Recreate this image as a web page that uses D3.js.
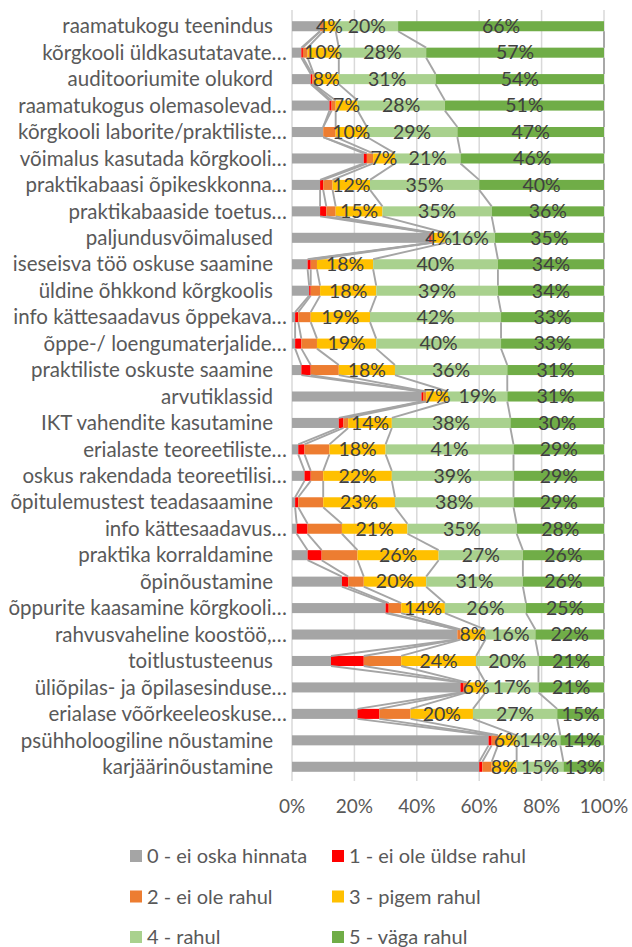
<!DOCTYPE html>
<html>
<head>
<meta charset="utf-8">
<script src="https://cdn.jsdelivr.net/npm/d3@7"></script>
<style>
    body { margin: 0; background: #fff; }
    text { font-family: Lato, "Open Sans", sans-serif; }
</style>
</head>
<body>
<svg id="chart"></svg>
<script>
const categories = [
    "raamatukogu teenindus",
    "kõrgkooli üldkasutatavate…",
    "auditooriumite olukord",
    "raamatukogus olemasolevad…",
    "kõrgkooli laborite/praktiliste…",
    "võimalus kasutada kõrgkooli…",
    "praktikabaasi õpikeskkonna…",
    "praktikabaaside toetus…",
    "paljundusvõimalused",
    "iseseisva töö oskuse saamine",
    "üldine õhkkond kõrgkoolis",
    "info kättesaadavus õppekava…",
    "õppe-/ loengumaterjalide…",
    "praktiliste oskuste saamine",
    "arvutiklassid",
    "IKT vahendite kasutamine",
    "erialaste teoreetiliste…",
    "oskus rakendada teoreetilisi…",
    "õpitulemustest teadasaamine",
    "info kättesaadavus…",
    "praktika korraldamine",
    "õpinõustamine",
    "õppurite kaasamine kõrgkooli…",
    "rahvusvaheline koostöö,…",
    "toitlustusteenus",
    "üliõpilas- ja õpilasesinduse…",
    "erialase võõrkeeleoskuse…",
    "psühholoogiline nõustamine",
    "karjäärinõustamine"
]

const seriesNames = [
    "0 - ei oska hinnata",
    "1 - ei ole üldse rahul",
    "2 - ei ole rahul",
    "3 - pigem rahul",
    "4 - rahul",
    "5 - väga rahul"
]

// percentages per category, same order as categories
const s0 = [9, 3, 6, 12, 10, 23, 9, 9, 44, 5, 5.5, 1, 1, 3, 41.5, 15, 2, 4, 1, 1.5, 5, 16, 30, 53, 12.5, 54, 21, 63, 60]
const s1 = [0, 0.5, 0.5, 0.7, 0, 1, 1, 2, 0.5, 1, 0.5, 1, 2, 3, 0.5, 1.5, 2, 2, 1, 3.5, 4.5, 2, 1, 0, 10.5, 1, 7, 1, 1]
const s2 = [1, 1.5, 0.5, 1.3, 4, 2, 3, 3, 0.5, 2, 3, 4, 5, 9, 1, 1.5, 8, 4, 8, 11, 11.5, 5, 4, 1, 12, 1, 10, 2, 3]
const s3 = [4, 10, 8, 7, 10, 7, 12, 15, 4, 18, 18, 19, 19, 18, 7, 14, 18, 22, 23, 21, 26, 20, 14, 8, 24, 6, 20, 6, 8]
const s4 = [20, 28, 31, 28, 29, 21, 35, 35, 16, 40, 39, 42, 40, 36, 19, 38, 41, 39, 38, 35, 27, 31, 26, 16, 20, 17, 27, 14, 15]
const s5 = [66, 57, 54, 51, 47, 46, 40, 36, 35, 34, 34, 33, 33, 31, 31, 30, 29, 29, 29, 28, 26, 26, 25, 22, 21, 21, 15, 14, 13]

const xTicks = [0, 0.2, 0.4, 0.6, 0.8, 1]

const colors = ["#a5a5a5", "#ff0000", "#ed7d31", "#ffc000", "#a9d18e", "#70ad47"]
const labelled = [3, 4, 5]

const W = 632, H = 947
const plot = { left: 292, right: 604, top: 13, bottom: 780 }

var svg = d3.select('#chart')
            .attr('width', W)
            .attr('height', H)

var rows = categories.map(function (c, i) {
    var r = { name: c }
    seriesNames.forEach(function (s, k) {
        r[s] = [s0, s1, s2, s3, s4, s5][k][i]
    })
    return r
})

var stacked = d3.stack()
                .keys(seriesNames)
                .offset(d3.stackOffsetExpand)(rows)

var x = d3.scaleLinear()
          .domain([0, 1])
          .range([plot.left, plot.right])

var y = d3.scaleBand()
          .domain(categories)
          .range([plot.top, plot.bottom])
          .paddingInner(0.62)
          .paddingOuter(0.31)

// gridlines
svg.append('g')
   .selectAll('line')
   .data(xTicks)
   .enter().append('line')
   .attr('x1', d => x(d)).attr('x2', d => x(d))
   .attr('y1', plot.top - 3).attr('y2', plot.bottom + 1)
   .attr('stroke', '#d9d9d9')
   .attr('stroke-width', 1.5)

// bars
var layer = svg.append('g')
               .selectAll('g')
               .data(stacked)
               .enter().append('g')
               .attr('fill', (d, k) => colors[k])

layer.selectAll('rect')
     .data(d => d)
     .enter().append('rect')
     .attr('x', d => x(d[0]))
     .attr('width', d => x(d[1]) - x(d[0]))
     .attr('y', d => y(d.data.name))
     .attr('height', y.bandwidth())

// series lines between neighbouring bars
var sl = svg.append('g')
            .attr('stroke', '#a5a5a5')
            .attr('stroke-width', 1.9)
            .attr('fill', 'none')

stacked.forEach(function (ser) {
    for (var i = 0; i < ser.length - 1; i++) {
        sl.append('line')
          .attr('x1', x(ser[i][1]))
          .attr('y1', y(categories[i]) + y.bandwidth())
          .attr('x2', x(ser[i + 1][1]))
          .attr('y2', y(categories[i + 1]))
    }
})

// data labels
labelled.forEach(function (k) {
    svg.append('g')
       .selectAll('text')
       .data(stacked[k])
       .enter().append('text')
       .attr('x', d => (x(d[0]) + x(d[1])) / 2)
       .attr('y', d => y(d.data.name) + y.bandwidth() / 2)
       .attr('dy', '.35em')
       .attr('text-anchor', 'middle')
       .attr('fill', '#404040')
       .style('font-size', '19.5px')
       .text(d => Math.round(d.data[seriesNames[k]]) + '%')
})

// category labels
svg.append('g')
   .selectAll('text')
   .data(categories)
   .enter().append('text')
   .attr('x', d => d.endsWith('…') ? 287 : 273)
   .attr('y', d => y(d) + y.bandwidth() / 2)
   .attr('dy', '.35em')
   .attr('text-anchor', 'end')
   .attr('fill', '#595959')
   .style('font-size', '20.5px')
   .text(d => d)

// x axis labels
svg.append('g')
   .selectAll('text')
   .data(xTicks)
   .enter().append('text')
   .attr('x', d => x(d))
   .attr('y', 806)
   .attr('dy', '.35em')
   .attr('text-anchor', 'middle')
   .attr('fill', '#595959')
   .style('font-size', '19px')
   .text(d => d3.format('.0%')(d))

// legend
var leg = svg.append('g')
             .selectAll('g')
             .data(seriesNames)
             .enter().append('g')
             .attr('transform', (d, i) =>
                   `translate(${i % 2 ? 332 : 130}, ${856 + Math.floor(i / 2) * 40.5})`)

leg.append('rect')
   .attr('y', -6)
   .attr('width', 12).attr('height', 12)
   .attr('fill', (d, i) => colors[i])

leg.append('text')
   .attr('x', 17)
   .attr('dy', '.35em')
   .attr('fill', '#595959')
   .style('font-size', '20px')
   .text(d => d)
</script>
</body>
</html>
